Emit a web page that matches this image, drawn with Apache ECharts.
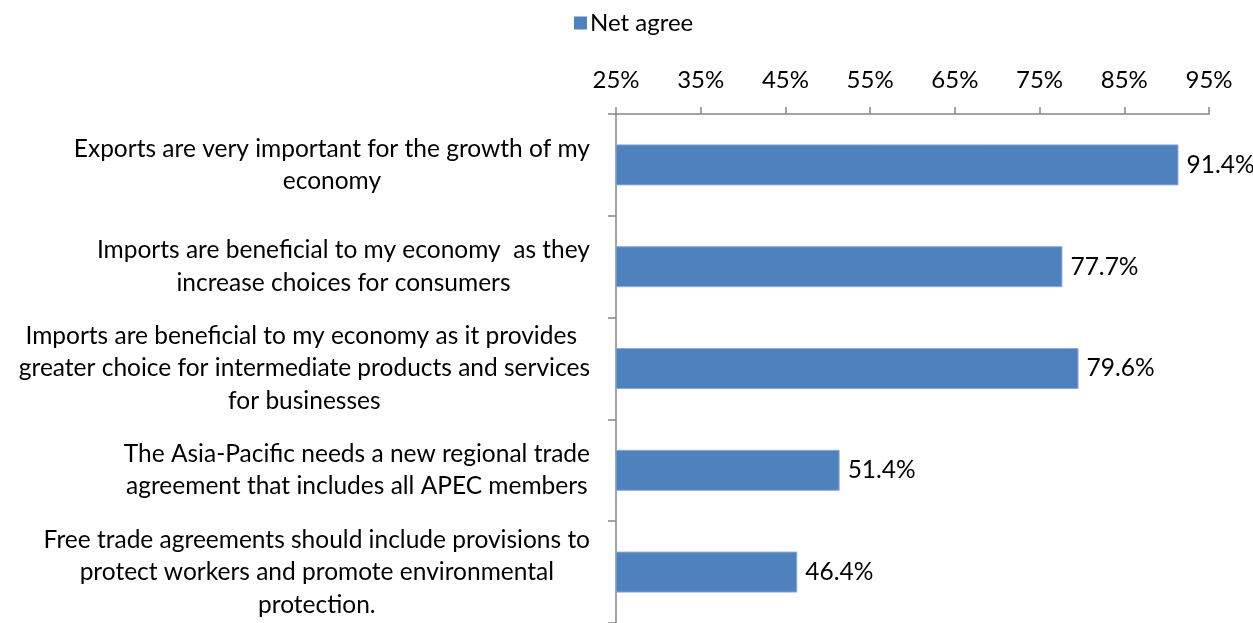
<!DOCTYPE html>
<html>
<head>
<meta charset="utf-8">
<script src="https://cdn.jsdelivr.net/npm/echarts@6/dist/echarts.min.js"></script>
<style>
  html, body { margin: 0; padding: 0; background: #fff; }
  #chart { width: 1253px; height: 623px; }
</style>
</head>
<body>
<div id="chart"></div>
<script>
// Survey statements (top to bottom) and their net-agree shares (%)
const categories = [
  "Exports are very important for the growth of my\neconomy",
  "Imports are beneficial to my economy  as they\nincrease choices for consumers",
  "Imports are beneficial to my economy as it provides \ngreater choice for intermediate products and services\nfor businesses",
  "The Asia-Pacific needs a new regional trade\nagreement that includes all APEC members",
  "Free trade agreements should include provisions to\nprotect workers and promote environmental\nprotection."
];
const netAgree = [91.4, 77.7, 79.6, 51.4, 46.4];
const seriesName = "Net agree";
const axisMin = 25, axisMax = 95, axisStep = 10;

const FONT = "Lato, 'Open Sans', sans-serif";
const TEXT = "#000000";
const AXIS = "#868686";

const chart = echarts.init(document.getElementById('chart'), null, { renderer: 'canvas' });

chart.setOption({
  animation: false,
  backgroundColor: '#ffffff',
  textStyle: { fontFamily: FONT, color: TEXT },
  legend: {
    top: 6,
    left: 569,
    icon: 'rect',
    itemWidth: 13,
    itemHeight: 13,
    itemGap: 6,
    itemStyle: { borderWidth: 0 },
    textStyle: { fontSize: 24, color: TEXT, fontFamily: FONT, padding: [0, 0, 0, -2] },
    data: [seriesName]
  },
  grid: { left: 616, right: 44, top: 114, bottom: -3, containLabel: false },
  xAxis: {
    type: 'value',
    position: 'top',
    min: axisMin,
    max: axisMax,
    interval: axisStep,
    axisLine: { show: true, lineStyle: { color: AXIS, width: 1.5 } },
    axisTick: { show: true, inside: false, length: 7, lineStyle: { color: AXIS, width: 1.5 } },
    splitLine: { show: false },
    axisLabel: {
      margin: 22,
      fontSize: 24,
      color: TEXT,
      fontFamily: FONT,
      formatter: v => v + '%'
    }
  },
  yAxis: {
    type: 'category',
    inverse: true,
    data: categories,
    axisLine: { show: true, lineStyle: { color: AXIS, width: 1.5 } },
    axisTick: { show: true, inside: false, length: 8, alignWithLabel: false, lineStyle: { color: AXIS, width: 1.5 } },
    axisLabel: {
      margin: 26,
      fontSize: 24.5,
      color: TEXT,
      fontFamily: FONT,
      align: 'right',
      formatter: v => v.split('\n').map(l => '{c|' + l + '}').join('\n'),
      rich: { c: { align: 'center', fontSize: 24.5, lineHeight: 32.5, color: TEXT, fontFamily: FONT } }
    }
  },
  series: [{
    name: seriesName,
    type: 'bar',
    data: netAgree,
    barWidth: 41,
    itemStyle: { color: '#4F81BD', borderColor: '#8EAADB', borderWidth: 1 },
    label: {
      show: true,
      position: 'right',
      distance: 8,
      fontSize: 24.5,
      color: TEXT,
      fontFamily: FONT,
      formatter: p => p.value.toFixed(1) + '%'
    }
  }]
});
</script>
</body>
</html>
